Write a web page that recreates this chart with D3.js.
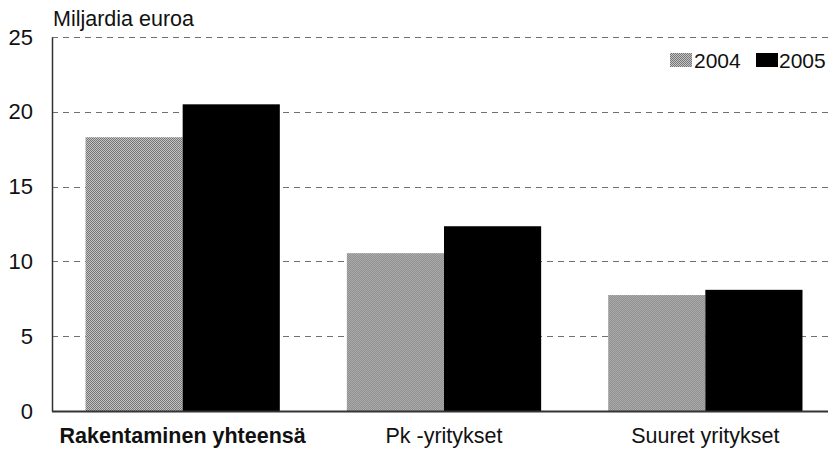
<!DOCTYPE html>
<html>
<head>
<meta charset="utf-8">
<script src="https://cdn.jsdelivr.net/npm/d3@7"></script>
<style>
  html, body { margin: 0; padding: 0; background: #fff; }
  svg { display: block; font-family: "Liberation Sans", Arial, sans-serif; }
</style>
</head>
<body>
<svg id="chart" width="828" height="449"></svg>
<script>
const categories = ["Rakentaminen yhteensä", "Pk -yritykset", "Suuret yritykset"];
const years = ["2004", "2005"];
const values2004 = [18.3, 10.55, 7.75];
const values2005 = [20.5, 12.35, 8.1];
const yTicks = [0, 5, 10, 15, 20, 25];
const yTitle = "Miljardia euroa";

(function () {
const svg = d3.select("#chart");
const W = 828, H = 449;
const mLeft = 52, mRight = 836, mTop = 37, mBottom = 411;

const defs = svg.append("defs");
const pat = defs.append("pattern").attr("id", "checker")
  .attr("patternUnits", "userSpaceOnUse").attr("width", 2).attr("height", 2);
pat.append("rect").attr("width", 2).attr("height", 2).attr("fill", "#c4c4c4");
pat.append("rect").attr("width", 1).attr("height", 1).attr("fill", "#777");
pat.append("rect").attr("x", 1).attr("y", 1).attr("width", 1).attr("height", 1).attr("fill", "#777");

const x0 = d3.scaleBand().domain(categories).range([mLeft, mRight]).paddingInner(0).paddingOuter(0);
const x1 = d3.scaleBand().domain(years).range([0, x0.bandwidth()]).paddingInner(0).paddingOuter(0.345);
const y = d3.scaleLinear().domain([0, 25]).range([mBottom, mTop]);

// gridlines
svg.append("g").selectAll("line").data(yTicks.filter(t => t > 0)).join("line")
  .attr("x1", mLeft).attr("x2", W)
  .attr("y1", d => Math.round(y(d)) + 0.5).attr("y2", d => Math.round(y(d)) + 0.5)
  .attr("stroke", "#707070").attr("stroke-width", 1).attr("stroke-dasharray", "6,5");

// bars
const fills = { "2004": "url(#checker)", "2005": "#000" };
const rows = categories.map((c, i) => ({ cat: c, vals: [
  { year: "2004", v: values2004[i] }, { year: "2005", v: values2005[i] }] }));
const g = svg.append("g").selectAll("g").data(rows).join("g")
  .attr("transform", d => `translate(${x0(d.cat)},0)`);
g.selectAll("rect").data(d => d.vals).join("rect")
  .attr("x", d => x1(d.year)).attr("width", x1.bandwidth())
  .attr("y", d => y(d.v)).attr("height", d => y(0) - y(d.v))
  .attr("fill", d => fills[d.year]);

// y axis
const yAxis = d3.axisLeft(y).tickValues(yTicks).tickSize(0).tickPadding(19);
const ya = svg.append("g").attr("transform", `translate(${mLeft},0)`).call(yAxis);
ya.select(".domain").attr("stroke", "#333").attr("stroke-width", 1.5);
ya.selectAll("text").attr("font-size", 22).attr("fill", "#111")
  .attr("font-family", "'Liberation Sans', Arial, sans-serif");

// x axis baseline
svg.append("line").attr("x1", mLeft).attr("x2", W).attr("y1", mBottom + 0.5).attr("y2", mBottom + 0.5)
  .attr("stroke", "#333").attr("stroke-width", 2);

// category labels
svg.append("g").selectAll("text").data(categories).join("text")
  .attr("x", d => x0(d) + x0.bandwidth() / 2).attr("y", 443)
  .attr("text-anchor", "middle").attr("font-size", 21.5)
  .attr("font-weight", (d, i) => i === 0 ? "bold" : "normal")
  .attr("fill", "#111").text(d => d);

// title
svg.append("text").attr("x", 53).attr("y", 26).attr("font-size", 21.5).attr("fill", "#111").text(yTitle);

// legend
const legend = [{ year: "2004", sx: 670, tx: 694 }, { year: "2005", sx: 756, tx: 779 }];
const lg = svg.append("g");
lg.selectAll("rect").data(legend).join("rect")
  .attr("x", d => d.sx).attr("y", 53).attr("width", 22).attr("height", 14)
  .attr("fill", d => fills[d.year]);
lg.selectAll("text").data(legend).join("text")
  .attr("x", d => d.tx).attr("y", 68).attr("font-size", 21).attr("fill", "#111").text(d => d.year);
})();
</script>
</body>
</html>
